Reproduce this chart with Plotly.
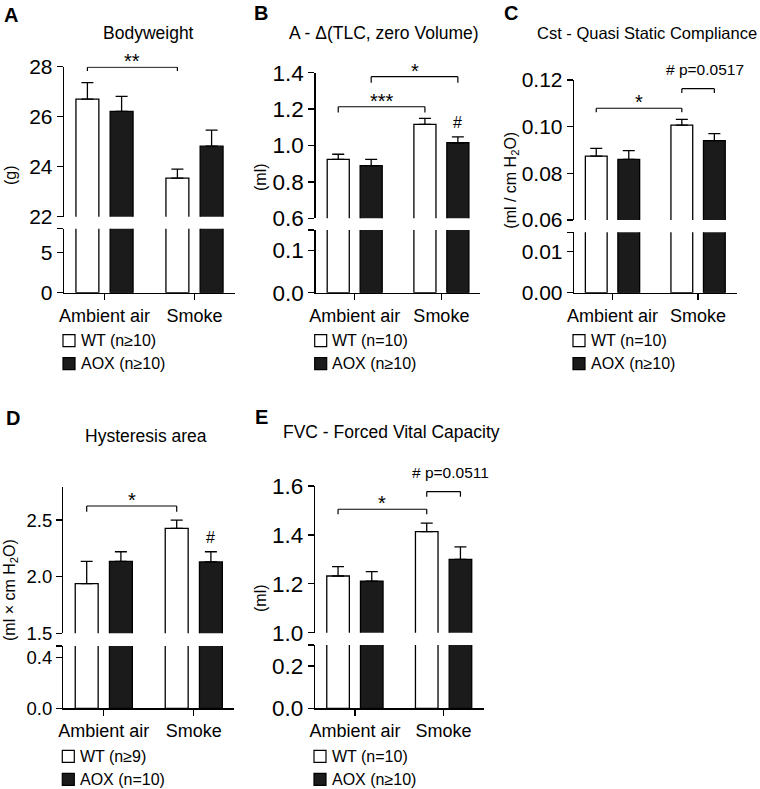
import plotly.graph_objects as go

# ---------------- data ----------------
groups = ["Ambient air", "Smoke"]

# A - Bodyweight (g)
bodyweight_wt = [26.70, 23.54]
bodyweight_wt_sem = [0.66, 0.36]
bodyweight_aox = [26.21, 24.82]
bodyweight_aox_sem = [0.60, 0.64]

# B - A - delta(TLC, zero Volume) (ml)
tlc_wt = [0.924, 1.116]
tlc_wt_sem = [0.028, 0.033]
tlc_aox = [0.889, 1.015]
tlc_aox_sem = [0.035, 0.032]

# C - Cst quasi static compliance (ml / cm H2O)
cst_wt = [0.0874, 0.1007]
cst_wt_sem = [0.0033, 0.0024]
cst_aox = [0.0860, 0.0940]
cst_aox_sem = [0.0037, 0.0030]

# D - Hysteresis area (ml x cm H2O)
hyst_wt = [1.938, 2.427]
hyst_wt_sem = [0.197, 0.073]
hyst_aox = [2.135, 2.130]
hyst_aox_sem = [0.085, 0.090]

# E - FVC (ml)
fvc_wt = [1.232, 1.413]
fvc_wt_sem = [0.038, 0.035]
fvc_aox = [1.211, 1.300]
fvc_aox_sem = [0.039, 0.051]

panel_letters = ["A", "B", "C", "D", "E"]
panel_titles = ["Bodyweight", "A - \u0394(TLC, zero Volume)", "Cst - Quasi Static Compliance",
                "Hysteresis area", "FVC - Forced Vital Capacity"]
y_titles = ["(g)", "(ml)", "(ml / cm H<sub>2</sub>O)", "(ml \u00d7 cm H<sub>2</sub>O)", "(ml)"]
upper_ticks = [[22, 24, 26, 28], [0.6, 0.8, 1.0, 1.2, 1.4], [0.06, 0.08, 0.10, 0.12],
               [1.5, 2.0, 2.5], [1.0, 1.2, 1.4, 1.6]]
lower_ticks = [[0, 5], [0.0, 0.1], [0.00, 0.01], [0.0, 0.4], [0.0, 0.2]]
tick_formats = ["{:.0f}", "{:.1f}", "{:.2f}", "{:.1f}", "{:.1f}"]
legend_wt = ["WT (n\u226510)", "WT (n=10)", "WT (n=10)", "WT (n\u22659)", "WT (n=10)"]
legend_aox = ["AOX (n\u226510)", "AOX (n\u226510)", "AOX (n\u226510)", "AOX (n=10)", "AOX (n\u226510)"]

values = [
    (bodyweight_wt, bodyweight_wt_sem, bodyweight_aox, bodyweight_aox_sem),
    (tlc_wt, tlc_wt_sem, tlc_aox, tlc_aox_sem),
    (cst_wt, cst_wt_sem, cst_aox, cst_aox_sem),
    (hyst_wt, hyst_wt_sem, hyst_aox, hyst_aox_sem),
    (fvc_wt, fvc_wt_sem, fvc_aox, fvc_aox_sem),
]

# significance comparisons: (group_a, series_a, group_b, series_b, level, drop, label)
comparisons = [
    [(0, 0, 1, 0, 27.98, 27.83, "**")],
    [(0, 0, 1, 0, 1.213, 1.182, "***"), (0, 1, 1, 1, 1.378, 1.345, "*")],
    [(0, 0, 1, 0, 0.1079, 0.1062, "*"), (1, 0, 1, 1, 0.1163, 0.1144, "# p=0.0517")],
    [(0, 0, 1, 0, 2.624, 2.573, "*")],
    [(0, 0, 1, 0, 1.505, 1.484, "*"), (1, 0, 1, 1, 1.577, 1.556, "# p=0.0511")],
]
hash_marks = [False, True, False, True, False]   # '#' above AOX smoke bar

# ---------------- layout geometry (pixels) ----------------
W, H = 760, 789
geom = [
    dict(xl=64, xr=235, ut=66.7, ub=216.7, lt=228.7, lb=292.7, ur=[22, 28], lr=[0, 7.92],
         ylab=(11, 175), title=(148.5, 33), tsize=17.5, letter=(2, 15), yfs=21),
    dict(xl=315.7, xr=480.4, ut=72.7, ub=218.3, lt=230, lb=292.7, ur=[0.6, 1.4], lr=[0, 0.149],
         ylab=(260, 177), title=(383.7, 33), tsize=17.5, letter=(252, 13), yfs=22.5),
    dict(xl=574, xr=736.6, ut=80, ub=220, lt=232.3, lb=292.7, ur=[0.06, 0.12], lr=[0, 0.01473],
         ylab=(511.7, 180), title=(647, 33), tsize=16.5, letter=(502, 13), yfs=21),
    dict(xl=63.3, xr=234.3, ut=487.3, ub=633.3, lt=646, lb=708.3, ur=[1.5, 2.789], lr=[0, 0.4925],
         ylab=(10, 590), title=(146.3, 436), tsize=17.5, letter=(4, 418), yfs=18.5),
    dict(xl=315, xr=483.5, ut=486, ub=632.7, lt=645, lb=708.3, ur=[1.0, 1.6], lr=[0, 0.2993],
         ylab=(260, 598), title=(391.3, 431.7), tsize=17.5, letter=(253, 417), yfs=22.5),
]
XRANGE = [-0.45, 1.45]
BARGAP = 0.24
BARGROUPGAP = 0.33
OFF = (1 - BARGAP) / 4
FONT = "Liberation Sans, Arial, Helvetica, sans-serif"
WT_FILL = "white"
AOX_FILL = "#1b1b1b"
LW = 1.3


def fx(p):
    return p / W


def fy(p):
    return 1 - p / H


fig = go.Figure()
layout = dict(width=W, height=H, autosize=False, margin=dict(l=0, r=0, t=0, b=0, pad=0),
              paper_bgcolor="white", plot_bgcolor="rgba(0,0,0,0)",
              barmode="group", bargap=BARGAP, bargroupgap=BARGROUPGAP,
              showlegend=False, font=dict(family=FONT, color="black"), hovermode=False,
              template="none")
shapes = []
annotations = []

axis_common = dict(showline=True, linecolor="black", linewidth=LW, ticks="outside",
                   ticklen=6, tickwidth=LW, tickcolor="black", showgrid=False, zeroline=False,
                   fixedrange=True, automargin=False)

for i, g in enumerate(geom):
    xid = "x" if i == 0 else f"x{i + 1}"
    lo_n, up_n = 2 * i + 1, 2 * i + 2
    ylo = "y" if lo_n == 1 else f"y{lo_n}"
    yup = f"y{up_n}"
    wt, wt_sem, aox, aox_sem = values[i]
    for name, vals, sems, fill in (("WT", wt, wt_sem, WT_FILL), ("AOX", aox, aox_sem, AOX_FILL)):
        for yid, with_err in ((ylo, False), (yup, True)):
            tr = go.Bar(x=groups, y=vals, name=name, xaxis=xid, yaxis=yid,
                        marker=dict(color=fill, line=dict(color="black", width=LW)),
                        showlegend=False, hoverinfo="skip")
            if with_err:
                tr.error_y = dict(type="data", array=sems, arrayminus=[0] * len(sems),
                                  symmetric=False, color="black", thickness=LW, width=6)
            fig.add_trace(tr)

    fmt = tick_formats[i]
    layout["xaxis" if i == 0 else f"xaxis{i + 1}"] = dict(
        axis_common, domain=[fx(g["xl"]), fx(g["xr"])], anchor=ylo, range=XRANGE,
        type="category", tickfont=dict(size=18, family=FONT))
    layout["yaxis" if lo_n == 1 else f"yaxis{lo_n}"] = dict(
        axis_common, domain=[fy(g["lb"]), fy(g["lt"])], anchor=xid, range=g["lr"],
        tickmode="array", tickvals=lower_ticks[i],
        ticktext=[fmt.format(v) for v in lower_ticks[i]],
        minor=dict(tickmode="array", tickvals=[g["lr"][1] * 0.999], ticks="outside",
                   ticklen=6, tickwidth=LW, tickcolor="black", showgrid=False),
        tickfont=dict(size=g["yfs"], family=FONT))
    layout[f"yaxis{up_n}"] = dict(
        axis_common, domain=[fy(g["ub"]), fy(g["ut"])], anchor=xid, range=g["ur"],
        tickmode="array", tickvals=upper_ticks[i],
        ticktext=[fmt.format(v) for v in upper_ticks[i]],
        tickfont=dict(size=g["yfs"], family=FONT))

    # significance brackets
    for (ga, sa, gb, sb, level, drop, label) in comparisons[i]:
        xa = ga + (-OFF if sa == 0 else OFF)
        xb = gb + (-OFF if sb == 0 else OFF)
        for (x0, y0, x1, y1) in ((xa, drop, xa, level), (xa, level, xb, level), (xb, level, xb, drop)):
            shapes.append(dict(type="line", xref=xid, yref=yup, x0=x0, y0=y0, x1=x1, y1=y1,
                               line=dict(color="black", width=1.2)))
        if label.startswith("#"):
            annotations.append(dict(text=label, x=(xa + xb) / 2, y=level, xref=xid, yref=yup,
                                    xanchor="center", yanchor="bottom", showarrow=False,
                                    xshift=7, yshift=9, font=dict(size=15.5, family=FONT)))
        else:
            annotations.append(dict(text=label, x=(xa + xb) / 2, y=level, xref=xid, yref=yup,
                                    xanchor="center", yanchor="bottom", showarrow=False,
                                    yshift=-7, font=dict(size=20, family=FONT)))
    if hash_marks[i]:
        annotations.append(dict(text="#", x=1 + OFF, y=aox[1] + aox_sem[1], xref=xid, yref=yup,
                                xanchor="center", yanchor="bottom", showarrow=False, yshift=4,
                                font=dict(size=16, family=FONT)))

    # titles, letters, y-axis titles
    annotations.append(dict(text=panel_titles[i], x=fx(g["title"][0]), y=fy(g["title"][1]),
                            xref="paper", yref="paper", xanchor="center", yanchor="middle",
                            showarrow=False, font=dict(size=g["tsize"], family=FONT)))
    annotations.append(dict(text="<b>" + panel_letters[i] + "</b>", x=fx(g["letter"][0]),
                            y=fy(g["letter"][1]), xref="paper", yref="paper", xanchor="left",
                            yanchor="middle", showarrow=False, font=dict(size=20, family=FONT)))
    annotations.append(dict(text=y_titles[i], x=fx(g["ylab"][0]), y=fy(g["ylab"][1]),
                            xref="paper", yref="paper", xanchor="center", yanchor="middle",
                            textangle=-90, showarrow=False, font=dict(size=16, family=FONT)))

    # legend (below each panel)
    sq_l = g["xl"] - 1
    for k, (lab, fill) in enumerate(((legend_wt[i], WT_FILL), (legend_aox[i], AOX_FILL))):
        cy = g["lb"] + 48 + 23 * k
        shapes.append(dict(type="rect", xref="paper", yref="paper",
                           x0=fx(sq_l), x1=fx(sq_l + 12), y0=fy(cy + 6), y1=fy(cy - 6),
                           fillcolor=fill, line=dict(color="black", width=1.2)))
        annotations.append(dict(text=lab, x=fx(sq_l + 15.5), y=fy(cy), xref="paper", yref="paper",
                                xanchor="left", yanchor="middle", showarrow=False,
                                font=dict(size=16, family=FONT)))

layout["shapes"] = shapes
layout["annotations"] = annotations
fig.update_layout(**layout)
fig.write_html("out.html", config={"displayModeBar": False, "staticPlot": True},
               post_script="document.body.style.margin='0';document.body.style.padding='0';"
                           "document.body.style.overflow='hidden';")
